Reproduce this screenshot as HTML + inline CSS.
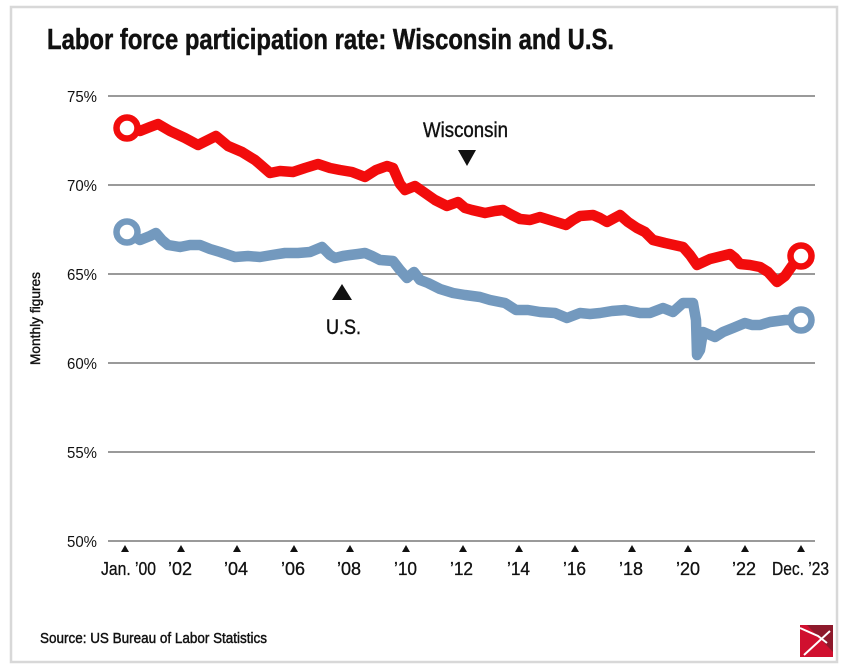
<!DOCTYPE html>
<html>
<head>
<meta charset="utf-8">
<style>
  html, body { margin: 0; padding: 0; background: #fff; }
  body { width: 849px; height: 670px; overflow: hidden; }
  svg { display: block; }
  text { font-family: "Liberation Sans Narrow", "Liberation Sans", sans-serif; fill: #111; }
</style>
</head>
<body>
<svg width="849" height="670" viewBox="0 0 849 670" xmlns="http://www.w3.org/2000/svg">
  <rect x="0" y="0" width="849" height="670" fill="#fff"/>
  <!-- frame -->
  <rect x="11" y="7" width="826" height="655" fill="none" stroke="#d8d8d8" stroke-width="2.5"/>

  <!-- title -->
  <text x="47" y="49" font-size="29" font-weight="bold" stroke="#111" stroke-width="0.5" textLength="567" lengthAdjust="spacingAndGlyphs">Labor force participation rate: Wisconsin and U.S.</text>

  <!-- gridlines -->
  <g stroke="#9a9a9a" stroke-width="2">
    <line x1="108" y1="96" x2="815" y2="96"/>
    <line x1="108" y1="185" x2="815" y2="185"/>
    <line x1="108" y1="274" x2="815" y2="274"/>
    <line x1="108" y1="363" x2="815" y2="363"/>
    <line x1="108" y1="452" x2="815" y2="452"/>
    <line x1="108" y1="541" x2="815" y2="541"/>
  </g>

  <!-- y labels -->
  <g font-size="16" text-anchor="end">
    <text x="97" y="102" textLength="30" lengthAdjust="spacingAndGlyphs">75%</text>
    <text x="97" y="191" textLength="30" lengthAdjust="spacingAndGlyphs">70%</text>
    <text x="97" y="280" textLength="30" lengthAdjust="spacingAndGlyphs">65%</text>
    <text x="97" y="369" textLength="30" lengthAdjust="spacingAndGlyphs">60%</text>
    <text x="97" y="458" textLength="30" lengthAdjust="spacingAndGlyphs">55%</text>
    <text x="97" y="547" textLength="30" lengthAdjust="spacingAndGlyphs">50%</text>
  </g>

  <!-- y axis title -->
  <text transform="translate(40,365) rotate(-90)" font-size="14" stroke="#111" stroke-width="0.4" textLength="93" lengthAdjust="spacingAndGlyphs">Monthly figures</text>

  <!-- x ticks -->
  <g fill="#111">
    <polygon points="121,552 129,552 125,545"/>
    <polygon points="177,552 185,552 181,545"/>
    <polygon points="233,552 241,552 237,545"/>
    <polygon points="290,552 298,552 294,545"/>
    <polygon points="346,552 354,552 350,545"/>
    <polygon points="402,552 410,552 406,545"/>
    <polygon points="459,552 467,552 463,545"/>
    <polygon points="515,552 523,552 519,545"/>
    <polygon points="571,552 579,552 575,545"/>
    <polygon points="628,552 636,552 632,545"/>
    <polygon points="684,552 692,552 688,545"/>
    <polygon points="741,552 749,552 745,545"/>
    <polygon points="797,552 805,552 801,545"/>
  </g>

  <!-- x labels -->
  <g font-size="18" stroke="#111" stroke-width="0.3">
    <text x="101" y="575" textLength="55" lengthAdjust="spacingAndGlyphs">Jan. ’00</text>
    <text x="168" y="575" textLength="24" lengthAdjust="spacingAndGlyphs">’02</text>
    <text x="224" y="575" textLength="24" lengthAdjust="spacingAndGlyphs">’04</text>
    <text x="281" y="575" textLength="24" lengthAdjust="spacingAndGlyphs">’06</text>
    <text x="337" y="575" textLength="24" lengthAdjust="spacingAndGlyphs">’08</text>
    <text x="394" y="575" textLength="23" lengthAdjust="spacingAndGlyphs">’10</text>
    <text x="450" y="575" textLength="23" lengthAdjust="spacingAndGlyphs">’12</text>
    <text x="507" y="575" textLength="23" lengthAdjust="spacingAndGlyphs">’14</text>
    <text x="563" y="575" textLength="23" lengthAdjust="spacingAndGlyphs">’16</text>
    <text x="619" y="575" textLength="24" lengthAdjust="spacingAndGlyphs">’18</text>
    <text x="676" y="575" textLength="24" lengthAdjust="spacingAndGlyphs">’20</text>
    <text x="732" y="575" textLength="24" lengthAdjust="spacingAndGlyphs">’22</text>
    <text x="772" y="575" textLength="57" lengthAdjust="spacingAndGlyphs">Dec. ’23</text>
  </g>

  <!-- Wisconsin series -->
  <polyline fill="none" stroke="#f20c0c" stroke-width="10.5" stroke-linejoin="round" stroke-linecap="round"
    points="127,128 140,131 150,127 158,124 170,131 185,138 198,145 208,140 216,136 228,146 242,152 255,160 262,166 270,173 280,171 293,172 305,168 318,164 330,168 340,170 352,172 365,177 376,170 387,166 393,168 400,184 405,190 415,186 425,193 435,200 447,206 458,202 465,208 472,210 485,213 495,211 503,210 512,215 520,219 530,220 540,217 553,221 566,225 573,220 580,216 593,215 600,218 607,222 620,215 628,222 637,228 645,232 653,240 665,243 683,247 690,255 697,265 710,259 730,254 735,258 740,264 750,265 760,267 768,272 777,282 785,276 792,266 801,256"/>
  <circle cx="127" cy="128" r="10.5" fill="#fff" stroke="#f20c0c" stroke-width="6.5"/>
  <circle cx="801" cy="256" r="10.5" fill="#fff" stroke="#f20c0c" stroke-width="6.5"/>

  <!-- U.S. series -->
  <polyline fill="none" stroke="#7399be" stroke-width="10.5" stroke-linejoin="round" stroke-linecap="round"
    points="127,232 140,240 150,236 156,233 162,240 168,245 180,247 190,245 200,245 210,249 220,252 235,257 248,256 260,257 272,255 285,253 298,253 310,252 322,247 330,255 335,258 343,256 350,255 358,254 365,253 372,256 380,260 393,261 400,270 407,278 414,272 420,280 428,283 440,289 453,293 465,295 480,297 490,300 505,303 516,310 528,310 540,312 555,313 567,318 580,313 590,314 600,313 612,311 625,310 640,313 650,313 663,308 673,312 683,303 693,303 696,320 697,355 700,350 703,332 715,337 723,332 733,328 745,323 752,325 760,325 770,322 785,320 801,320"/>
  <circle cx="127" cy="232" r="10.5" fill="#fff" stroke="#7399be" stroke-width="6.5"/>
  <circle cx="801" cy="320" r="10.5" fill="#fff" stroke="#7399be" stroke-width="6.5"/>

  <!-- annotations -->
  <text x="423" y="137" font-size="21" stroke="#111" stroke-width="0.4" textLength="85" lengthAdjust="spacingAndGlyphs">Wisconsin</text>
  <polygon points="458,150 476,150 467,166" fill="#111"/>
  <polygon points="332,300 352,300 342,284" fill="#111"/>
  <text x="326" y="334" font-size="21" stroke="#111" stroke-width="0.4" textLength="35" lengthAdjust="spacingAndGlyphs">U.S.</text>

  <!-- source -->
  <text x="40" y="643" font-size="15" stroke="#111" stroke-width="0.45" textLength="227" lengthAdjust="spacingAndGlyphs">Source: US Bureau of Labor Statistics</text>

  <!-- logo -->
  <g>
    <rect x="800" y="625" width="33" height="32" fill="#d0102f"/>
    <polygon points="807,625 833,625 833,652" fill="#8e1a2c"/>
    <polyline points="800,628 818,636 827,643" fill="none" stroke="#fff" stroke-width="2"/>
    <line x1="804" y1="655" x2="830" y2="631" stroke="#fff" stroke-width="2"/>
  </g>
</svg>
</body>
</html>
